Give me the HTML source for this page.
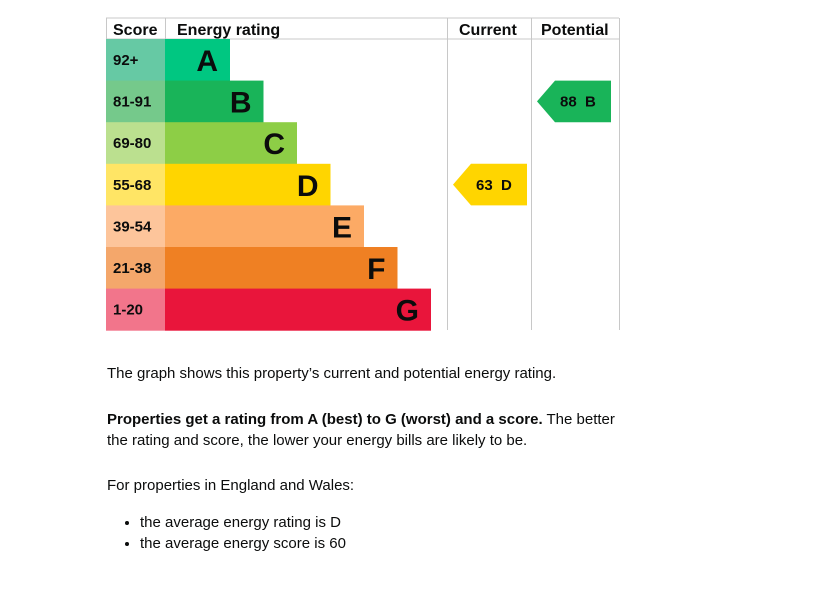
<!DOCTYPE html>
<html><head><meta charset="utf-8"><style>
body{margin:0;background:#fff;width:818px;height:591px;overflow:hidden;font-family:"Liberation Sans",sans-serif;color:#0b0c0c}
svg{position:absolute;left:0;top:0}
.p{position:absolute;left:107px;font-size:15px;margin:0;line-height:21px;white-space:nowrap}
</style></head><body>
<svg id="chart" width="818" height="345"></svg>
<p class="p" style="top:363px">The graph shows this property’s current and potential energy rating.</p>
<p class="p" style="top:409px"><b>Properties get a rating from A (best) to G (worst) and a score.</b> The better<br>the rating and score, the lower your energy bills are likely to be.</p>
<p class="p" style="top:475px">For properties in England and Wales:</p>
<ul style="position:absolute;left:107px;top:512px;margin:0;padding:0 0 0 33px;font-size:15px;line-height:21px">
<li>the average energy rating is D</li>
<li>the average energy score is 60</li>
</ul>
<script>
const bands=["A","B","C","D","E","F","G"];
const ranges=["92+","81-91","69-80","55-68","39-54","21-38","1-20"];
const bandMin=[92,81,69,55,39,21,1];
const barColors=["#00c781","#19b459","#8dce46","#ffd500","#fcaa65","#ef8023","#e9153b"];
const scoreColors=["#66c9a4","#75c98b","#bbe08f","#ffe565","#fdc59b","#f4a76b","#f2758b"];
const currentScore=63, currentBand="D";
const potentialScore=88, potentialBand="B";
const NS="http://www.w3.org/2000/svg", svg=document.getElementById('chart');
const X0=106,SCX=165,CURX=447,POTX=531,XE=619,HY=18,Y0=39,RH=41.6;
const rowY=i=>Y0+i*RH;
const barEnd=i=>230+i*33.5;
function mk(t,a,txt){const e=document.createElementNS(NS,t);for(const k in a)e.setAttribute(k,a[k]);if(txt!=null)e.textContent=txt;svg.appendChild(e);return e;}
let g;
g=mk('line',{x1:X0,y1:HY,x2:XE,y2:HY,stroke:'#c8c8c8'});
g=mk('line',{x1:X0,y1:Y0,x2:XE,y2:Y0,stroke:'#c8c8c8'});
[X0,SCX,CURX,POTX,XE].forEach((x,i)=>{const l=mk('line',{x1:x+0.5,y1:HY,x2:x+0.5,y2:(i<2?Y0:330),stroke:'#c8c8c8'});});
const hdr=[["Score",113,'score-header'],["Energy rating",177,'energy-rating-header'],["Current",459,'current-header'],["Potential",541,'potential-header']];
hdr.forEach(h=>{const t=mk('text',{x:h[1],y:35,'font-size':16,'font-weight':'bold',fill:'#0b0c0c'},h[0]);});
bands.forEach((b,i)=>{
 const y=rowY(i);
 let r=mk('rect',{x:X0,y:y,width:SCX-X0,height:RH+0.5,fill:scoreColors[i]});
 let t=mk('text',{x:113,y:y+26,'font-size':15,'font-weight':'bold',fill:'#0b0c0c'},ranges[i]);
 r=mk('rect',{x:SCX,y:y,width:barEnd(i)-SCX,height:RH+0.5,fill:barColors[i]});
 t=mk('text',{x:barEnd(i)-12,y:y+32,'font-size':30,'font-weight':'bold','text-anchor':'end',fill:'#0b0c0c'},b);
});
function bandIndex(s){for(let i=0;i<bandMin.length;i++)if(s>=bandMin[i])return i;return 6;}
function arrow(score,band,colX,name){
 const i=bandIndex(score),y=rowY(i),tip=colX+6,b=colX+24,e=colX+80;
 const p=mk('polygon',{points:`${tip},${y+RH/2} ${b},${y} ${e},${y} ${e},${y+RH} ${b},${y+RH}`,fill:barColors[i]});
 
 const t=mk('text',{x:colX+29,y:y+26,'font-size':15,'font-weight':'bold',fill:'#0b0c0c'},score+'\u00a0\u00a0'+band);
 
}
arrow(currentScore,currentBand,CURX,'current-rating');
arrow(potentialScore,potentialBand,POTX,'potential-rating');
</script>
</body></html>
